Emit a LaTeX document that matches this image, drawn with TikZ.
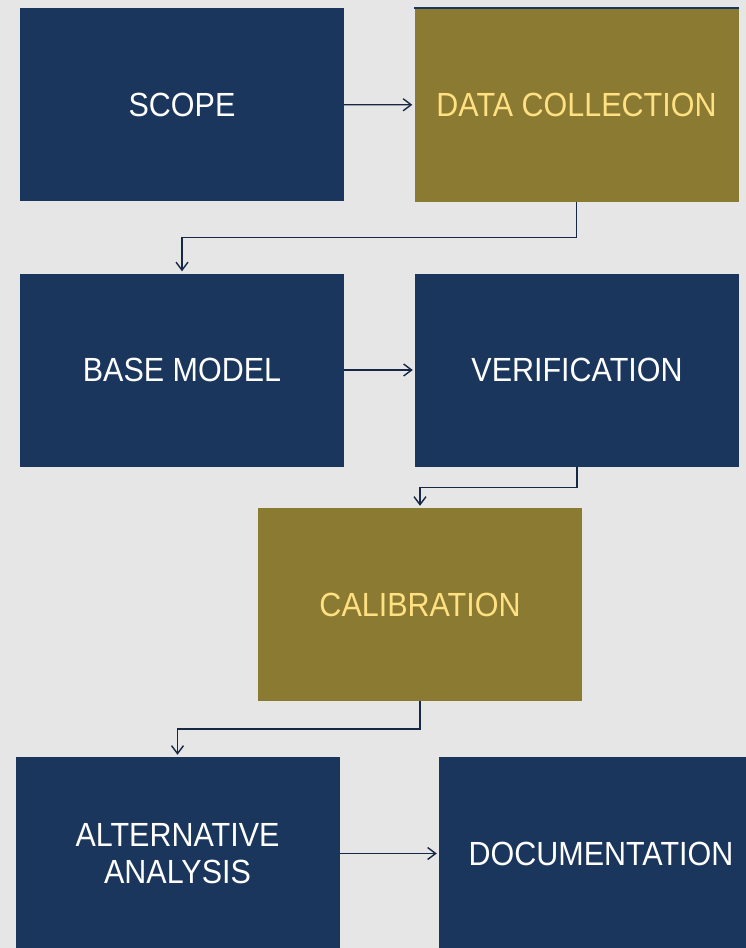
\documentclass[tikz,border=0pt]{standalone}
\usepackage{fontspec}
\setmainfont[FakeStretch=0.91]{Liberation Sans}
\usetikzlibrary{calc,arrows.meta}
\definecolor{navy}{RGB}{26,54,93}
\definecolor{olivebox}{RGB}{139,122,50}
\definecolor{goldtext}{RGB}{255,224,130}
\definecolor{linkblue}{RGB}{22,40,70}
\definecolor{bggray}{RGB}{230,230,230}
\tikzset{
    BX/.style ={rectangle, minimum width = 324pt, minimum height = 193pt, inner sep = 0pt, fill=navy, text=white, align=center, font=\fontsize{33.5}{37}\selectfont},
    BO/.style ={BX, fill=olivebox, text=goldtext},
    LK/.style ={draw=linkblue, line width=1.4pt, -{Straight Barb[length=8pt,width=12pt]}, shorten >=2pt}}
\begin{document}
\begin{tikzpicture}[x=1pt,y=-1pt]
        \fill[bggray] (0,0) rectangle (746,948);
        \useasboundingbox (0,0) rectangle (746,948);
        \clip (0,0) rectangle (746,948);
        \node[BX] (scope) at (182,104.5) {SCOPE};
        \node[BO] (data) at (576.5,105) {DATA COLLECTION};
        \draw[navy, line width=2pt] (data.north west) -- (data.north east);
        \node[BX] (base) at (182,370) {BASE MODEL};
        \node[BX] (verif) at (577,370) {VERIFICATION};
        \node[BO] (calib) at (420,604.5) {CALIBRATION};
        \node[BX] (alt) at (177.5,853.5) {ALTERNATIVE\\ANALYSIS};
        \node[BX] (doc) at (601,853.5) {DOCUMENTATION};
        \draw[LK] (scope) -- (data);
        \draw[LK] (data.south) -- ($(data.south)!0.5!(data.south |- base.north)$) -| (base.north);
        \draw[LK] (base) -- (verif);
        \draw[LK] (verif.south) -- ($(verif.south)!0.5!(verif.south |- calib.north)$) -| (calib.north);
        \draw[LK] (calib.south) -- ($(calib.south)!0.5!(calib.south |- alt.north)$) -| (alt.north);
        \draw[LK] (alt) -- (doc);
    \end{tikzpicture}
\end{document}
